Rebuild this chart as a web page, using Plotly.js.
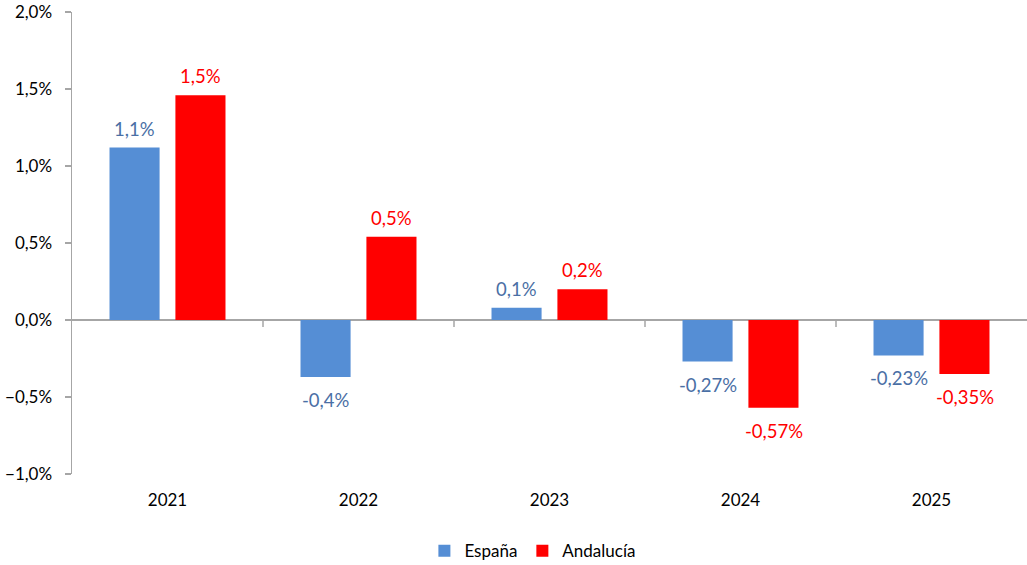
<!DOCTYPE html>
<html><head><meta charset="utf-8">
<script src="https://cdn.plot.ly/plotly-3.0.1.min.js"></script>
<style>html,body{margin:0;padding:0;background:#fff}#c{width:1027px;height:565px}</style>
</head><body><div id="c"></div>
<script>
const years = ['2021','2022','2023','2024','2025'];
const espana = [1.12, -0.37, 0.08, -0.27, -0.23];
const andalucia = [1.46, 0.54, 0.20, -0.57, -0.35];
const espanaLabels = ['1,1%','-0,4%','0,1%','-0,27%','-0,23%'];
const andaluciaLabels = ['1,5%','0,5%','0,2%','-0,57%','-0,35%'];

const font = 'Lato, "Open Sans", sans-serif';
const traces = [
  {type:'bar', name:'España', x:years, y:espana, marker:{color:'#558ED5'}, hoverinfo:'skip'},
  {type:'bar', name:'Andalucía', x:years, y:andalucia, marker:{color:'#FF0000'}, hoverinfo:'skip'}
];
const slot = 33;
const annotations = [];
[[espana, espanaLabels, '#4A6FA5', -slot], [andalucia, andaluciaLabels, '#FF0000', slot]].forEach(([vals, labs, col, dx])=>{
  vals.forEach((v,i)=>annotations.push({x:i, y:v, xref:'x', yref:'y', text:labs[i], showarrow:false,
    xshift:dx, yshift: v>=0 ? 19 : -23, yanchor:'middle', font:{family:font, size:18.5, color:col}}));
});
const shapes = years.slice(0,-1).map((_,i)=>({type:'line', xref:'x', yref:'y', ysizemode:'pixel', yanchor:0,
  x0:i+0.5, x1:i+0.5, y0:0, y1:-7, line:{color:'#A6A6A6', width:1.5}}));
const layout = {
  width:1027, height:565, margin:{l:72, r:0, t:12, b:91, autoexpand:false},
  paper_bgcolor:'#fff', plot_bgcolor:'#fff',
  separators:', ', font:{family:font, size:17, color:'#000'},
  bargap:0.31, bargroupgap:0.24, barmode:'group',
  showlegend:true,
  legend:{orientation:'h', x:0.369, xanchor:'left', y:-0.167, yanchor:'middle', font:{family:font, size:17, color:'#000'}, itemwidth:30},
  xaxis:{type:'category', categoryorder:'array', categoryarray:years, range:[-0.5, years.length-0.5], autorange:false,
    showline:false, ticks:'', showgrid:false, zeroline:false, tickfont:{family:font, size:17}, ticklabelstandoff:14},
  yaxis:{range:[-1,2], autorange:false, dtick:0.5, tick0:0, tickformat:'.1f', ticksuffix:'%', showgrid:false,
    showline:true, linecolor:'#A6A6A6', linewidth:1.5, ticks:'outside', ticklen:6, tickcolor:'#A6A6A6', tickwidth:1.5,
    zeroline:true, zerolinecolor:'#A6A6A6', zerolinewidth:1.5, tickfont:{family:font, size:17}, ticklabelstandoff:9,
    ticklabeloverflow:'allow'},
  annotations:annotations,
  shapes:shapes
};
Plotly.newPlot('c', traces, layout, {displayModeBar:false, staticPlot:true});
</script></body></html>
